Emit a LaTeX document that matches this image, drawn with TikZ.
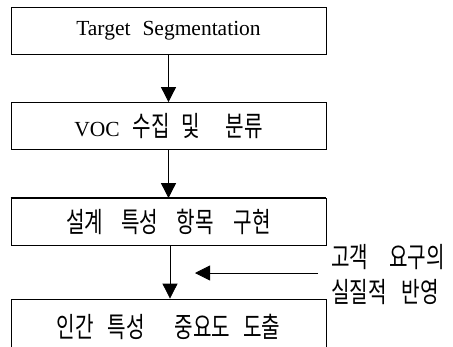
\documentclass[tikz,border=0pt]{standalone}
\usepackage{fontspec}
\setmainfont{Liberation Serif}
\newfontfamily\kr[FakeStretch=0.72]{Noto Sans CJK KR}
\usetikzlibrary{arrows.meta}
% word gap inside the box labels
\newcommand\wsp[1][16pt]{\hspace*{#1}}
\begin{document}
\begin{tikzpicture}[x=1pt,y=-1pt,
  stepbox/.style={draw,line width=0.8pt,minimum width=315pt,minimum height=47pt,inner sep=0pt},
  latin/.style={font=\fontsize{21.5}{26}\selectfont},
  hangul/.style={font=\kr\fontsize{28}{32}\selectfont},
  flow/.style={line width=0.8pt,-{Triangle[width=15pt,length=15pt]}}]
  \clip (0,0) rectangle (453,346);
  \fill[white] (0,0) rectangle (453,346);
  \node[stepbox,latin] (b1) at (168.5,30.5) {Target\wsp[12pt]Segmentation};
  \node[stepbox,latin] (b2) at (168.5,126) {VOC\wsp[13pt]{\kr\fontsize{28}{32}\selectfont 수집\wsp[12pt]및\wsp[25pt]분류}};
  \node[stepbox,hangul] (b3) at (168.5,222) {설계\wsp[18pt]특성\wsp[18pt]항목\wsp[20pt]구현};
  \draw[line width=1.6pt] (b3.north west) -- (b3.north east);
  \node[stepbox,hangul,minimum height=56pt] (b4) at (168.5,327) {인간\wsp[14pt]특성\wsp[30pt]중요도\wsp[13pt]도출};
  \draw[flow] (b1.south) -- (b2.north);
  \draw[flow] (b2.south) -- (b3.north);
  \draw[flow] ([xshift=1.5pt]b3.south) -- ([xshift=1.5pt]b4.north);
  \coordinate (fs) at (318,273);
  \coordinate (fe) at (195,273);
  \draw[flow] (fs) -- (fe);
  \node[anchor=west,align=left,hangul,font=\kr\fontsize{28}{35}\selectfont,inner sep=0pt] (note) at (331,275) {고객\wsp[21pt]요구의\\실질적\wsp[15pt]반영};
\end{tikzpicture}
\end{document}
